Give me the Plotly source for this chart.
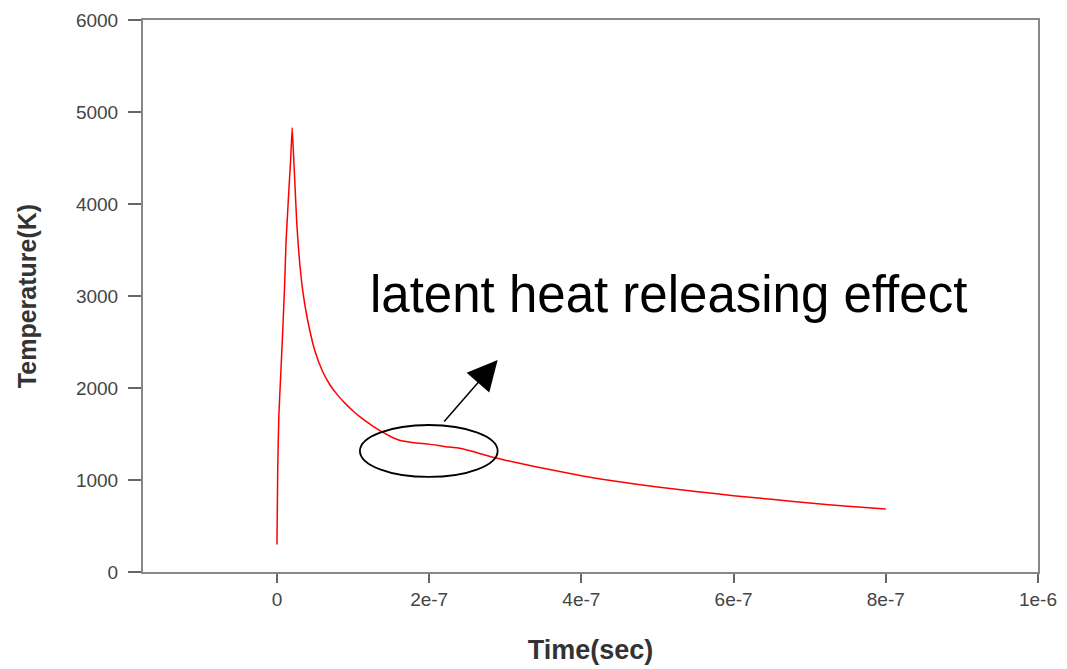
import plotly.graph_objects as go

# Time (s) and temperature (K)
time_s = [0, 1.0e-9, 2.5e-9, 5e-9, 7.5e-9, 1.0e-8, 1.2e-8, 1.4e-8, 1.6e-8, 1.8e-8,
          2.0e-8, 2.2e-8, 2.4e-8, 2.6e-8, 2.8e-8, 3.0e-8, 3.4e-8, 4e-8, 5e-8, 6e-8,
          7e-8, 8e-8, 9e-8, 1.0e-7, 1.1e-7, 1.2e-7, 1.3e-7, 1.4e-7, 1.5e-7, 1.6e-7,
          1.8e-7, 2.0e-7, 2.2e-7, 2.4e-7, 2.6e-7, 2.8e-7, 3.0e-7, 3.4e-7, 4.0e-7,
          4.5e-7, 5.0e-7, 5.5e-7, 6.0e-7, 6.5e-7, 7.0e-7, 7.5e-7, 8.0e-7]
temp_k = [300, 1100, 1700, 2150, 2600, 3100, 3600, 3900, 4200, 4480,
          4830, 4500, 4150, 3800, 3550, 3350, 3050, 2750, 2400, 2180,
          2030, 1920, 1830, 1750, 1680, 1620, 1565, 1515, 1470, 1435,
          1405, 1390, 1365, 1345, 1305, 1255, 1215, 1145, 1045,
          980, 925, 875, 830, 790, 750, 715, 685]

x_tickvals = [0, 2e-7, 4e-7, 6e-7, 8e-7, 1e-6]
x_ticktext = ["0", "2e-7", "4e-7", "6e-7", "8e-7", "1e-6"]
y_tickvals = [0, 1000, 2000, 3000, 4000, 5000, 6000]

annotation_text = "latent heat releasing effect"
ellipse_x = [1.09e-7, 2.90e-7]
ellipse_y = [1033, 1598]
arrow_tail = (2.18e-7, 1620)
arrow_tip = (2.90e-7, 2304)

FONT = "Arial, 'Liberation Sans', sans-serif"

# page body has an 8px margin: plot area spans x 143..1038, y 20..572 on screen
OFF = 8
W, H = 1067 - OFF, 669 - OFF
L, R, T, B = 143 - OFF, 1067 - 1038, 20 - OFF, 669 - 572

fig = go.Figure()
fig.add_trace(go.Scatter(x=time_s, y=temp_k, mode="lines",
                         line=dict(color="#ff0000", width=1.5, shape="spline", smoothing=0.4),
                         showlegend=False))

fig.add_shape(type="circle", xref="x", yref="y",
              x0=ellipse_x[0], x1=ellipse_x[1], y0=ellipse_y[0], y1=ellipse_y[1],
              line=dict(color="black", width=1.8))

fig.add_annotation(x=arrow_tip[0], y=arrow_tip[1], ax=arrow_tail[0], ay=arrow_tail[1],
                   xref="x", yref="y", axref="x", ayref="y", text="",
                   showarrow=True, arrowhead=2, arrowsize=4, arrowwidth=1.5,
                   arrowcolor="black")

fig.add_annotation(xref="paper", yref="paper",
                   x=(668 - 143) / (1038 - 143), y=(572 - 294) / (572 - 20),
                   xanchor="center", yanchor="middle", text=annotation_text,
                   showarrow=False, font=dict(family=FONT, size=51, color="black"))

axis_common = dict(showline=True, linecolor="#888888", linewidth=2, mirror=True,
                   ticks="outside", tickcolor="#666666", tickwidth=2,
                   showgrid=False, zeroline=False, automargin=False,
                   tickfont=dict(family=FONT, size=19, color="#444444"))

fig.update_xaxes(range=[-1.76e-7, 1e-6], tickvals=x_tickvals, ticktext=x_ticktext,
                 ticklen=9,
                 title=dict(text="<b>Time(sec)</b>", standoff=31,
                            font=dict(family=FONT, size=27, color="#333333")),
                 **axis_common)
fig.update_yaxes(range=[0, 6000], tickvals=y_tickvals, ticklen=13,
                 ticklabelstandoff=6,
                 title=dict(text="<b>Temperature(K)</b>", standoff=32,
                            font=dict(family=FONT, size=25, color="#333333")),
                 **axis_common)

fig.update_layout(width=W, height=H,
                  margin=dict(l=L, r=R, t=T, b=B, autoexpand=False),
                  plot_bgcolor="white", paper_bgcolor="white")

fig.write_html("out.html")
